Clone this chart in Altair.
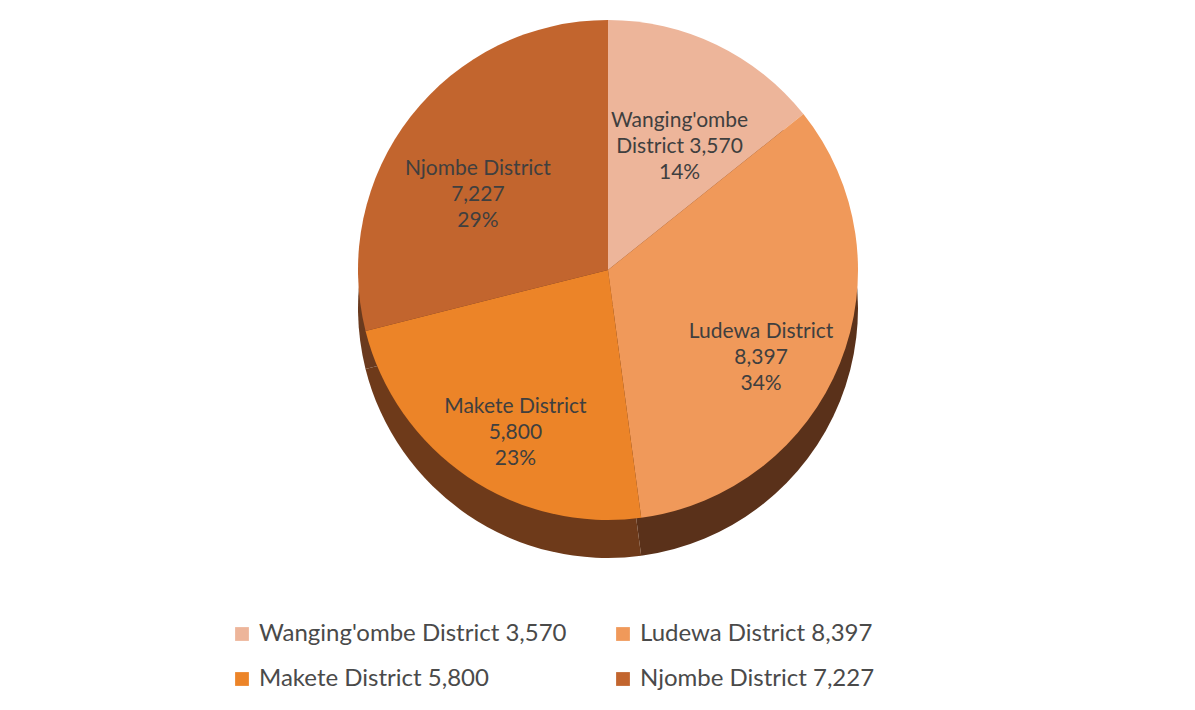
import altair as alt
import pandas as pd

districts = ["Wanging'ombe District", "Ludewa District", "Makete District", "Njombe District"]
values = [3570, 8397, 5800, 7227]
percents = [14, 34, 23, 29]
slice_labels = [
    "Wanging'ombe\nDistrict 3,570\n14%",
    "Ludewa District\n8,397\n34%",
    "Makete District\n5,800\n23%",
    "Njombe District\n7,227\n29%",
]
legend_labels = [f"{d} {v:,}" for d, v in zip(districts, values)]

top_colors = ["#EDB59A", "#F0995A", "#EC8428", "#C2652E"]
side_colors = ["#7A4526", "#5A311A", "#6E3A1A", "#6A3A1E"]

df = pd.DataFrame({
    "idx": list(range(len(districts))),
    "district": districts,
    "value": values,
    "pct": percents,
    "label": slice_labels,
    "legend": legend_labels,
})

CX, CY, R, DEPTH = 600, 262, 250, 38

base = alt.Chart(df)

side = base.mark_arc(outerRadius=R, stroke=None).encode(
    theta=alt.Theta("value:Q", stack=True),
    order=alt.Order("idx:Q"),
    color=alt.Color("district:N", scale=alt.Scale(domain=districts, range=side_colors), legend=None),
    x=alt.value(CX),
    y=alt.value(CY + DEPTH),
)

top = base.mark_arc(outerRadius=R, stroke=None).encode(
    theta=alt.Theta("value:Q", stack=True),
    order=alt.Order("idx:Q"),
    color=alt.Color(
        "legend:N",
        scale=alt.Scale(domain=legend_labels, range=top_colors),
        legend=alt.Legend(
            title=None,
            orient="none",
            direction="horizontal",
            legendX=222,
            legendY=614,
            columns=2,
            symbolType="square",
            symbolSize=190,
            symbolStrokeWidth=0,
            labelFont="Lato",
            labelFontSize=24,
            labelColor="#4a4a4a",
            labelLimit=0,
            rowPadding=21,
            columnPadding=44,
            labelOffset=5,
        ),
    ),
    tooltip=["district:N", "value:Q"],
    x=alt.value(CX),
    y=alt.value(CY),
)

text = base.mark_text(
    radius=165, lineBreak="\n", font="Lato", fontSize=21, color="#3f3f3f", lineHeight=26
).encode(
    theta=alt.Theta("value:Q", stack=True),
    order=alt.Order("idx:Q"),
    text="label:N",
    x=alt.value(CX),
    y=alt.value(CY),
)

chart = (
    alt.layer(side, top, text)
    .resolve_scale(color="independent")
    .properties(
        width=1175,
        height=690,
        autosize=alt.AutoSizeParams(type="fit", contains="padding"),
        padding=0,
    )
    .configure_view(stroke=None)
)

chart.save("out.html", embed_options={"renderer": "svg", "actions": False})
